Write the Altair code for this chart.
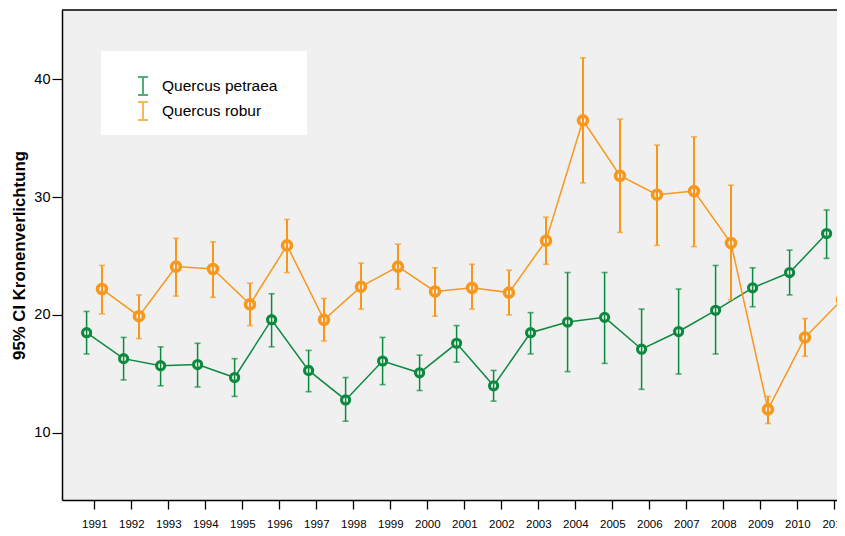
import altair as alt
import pandas as pd

years = list(range(1991, 2012))
species = ["Quercus petraea", "Quercus robur"]
colors = ["#0b8a3e", "#f7981d"]

petraea_mean = [18.5, 16.3, 15.7, 15.8, 14.7, 19.6, 15.3, 12.8, 16.1, 15.1, 17.6, 14.0, 18.5, 19.4, 19.8, 17.1, 18.6, 20.4, 22.3, 23.6, 26.9]
petraea_lo = [16.7, 14.5, 14.0, 13.9, 13.1, 17.3, 13.5, 11.0, 14.1, 13.6, 16.0, 12.7, 16.7, 15.2, 15.9, 13.7, 15.0, 16.7, 20.7, 21.7, 24.8]
petraea_hi = [20.3, 18.1, 17.3, 17.6, 16.3, 21.8, 17.0, 14.7, 18.1, 16.6, 19.1, 15.3, 20.2, 23.6, 23.6, 20.5, 22.2, 24.2, 24.0, 25.5, 28.9]

robur_mean = [22.2, 19.9, 24.1, 23.9, 20.9, 25.9, 19.6, 22.4, 24.1, 22.0, 22.3, 21.9, 26.3, 36.5, 31.8, 30.2, 30.5, 26.1, 12.0, 18.1, 21.3]
robur_lo = [20.1, 18.0, 21.6, 21.5, 19.1, 23.6, 17.8, 20.5, 22.2, 19.9, 20.5, 20.0, 24.3, 31.2, 27.0, 25.9, 25.8, 21.3, 10.8, 16.5, 20.0]
robur_hi = [24.2, 21.7, 26.5, 26.2, 22.7, 28.1, 21.4, 24.4, 26.0, 24.0, 24.3, 23.8, 28.3, 41.8, 36.6, 34.4, 35.1, 31.0, 13.1, 19.7, 22.7]

y_ticks = [10, 20, 30, 40]
y_domain = [4.32, 45.85]
x_domain = [1990.127, 2011.073]

rows = []
for sp, m, lo, hi in [(species[0], petraea_mean, petraea_lo, petraea_hi),
                      (species[1], robur_mean, robur_lo, robur_hi)]:
    for i, yr in enumerate(years):
        rows.append({"species": sp, "year": yr, "mean": m[i], "lo": lo[i], "hi": hi[i]})
df = pd.DataFrame(rows)

FONT = "Liberation Sans"
xscale = alt.Scale(domain=x_domain, nice=False, zero=False)
yscale = alt.Scale(domain=y_domain, nice=False, zero=False)

is_pet = alt.datum.species == species[0]

# invisible spacer title (white on the white legend box) to widen the box
legend = alt.Legend(
    title="M" * 55, titleFontSize=4, titlePadding=10, titleColor="white",
    titleFont=FONT, titleLimit=1000,
    orient="none", legendX=39, legendY=41,
    fillColor="white", padding=11, symbolOffset=21,
    symbolType="M0,-1L0,1M-0.55,-1L0.55,-1M-0.55,1L0.55,1",
    symbolSize=324, symbolStrokeWidth=2, symbolFillColor="transparent",
    labelFont=FONT, labelFontSize=15.5, labelColor="#000", labelOffset=9,
    rowPadding=-1, labelLimit=400,
)
color = alt.Color("species:N", scale=alt.Scale(domain=species, range=colors), legend=legend)

xaxis = alt.Axis(values=years, format="d", title=None, grid=False,
                 labelFont=FONT, labelFontSize=11.5, labelColor="#000",
                 labelPadding=9, labelFlush=False, labelOverlap=False,
                 tickColor="#000", tickSize=9, tickWidth=1.3,
                 domainColor="#000", domainWidth=1.5)
yaxis = alt.Axis(values=y_ticks, title="95% CI Kronenverlichtung", grid=False,
                 labelFont=FONT, labelFontSize=14.5, labelColor="#000", labelPadding=2,
                 tickColor="#000", tickSize=10, tickWidth=1.2,
                 domainColor="#000", domainWidth=1.5,
                 titleFont=FONT, titleFontSize=16.8, titleFontWeight="bold",
                 titleColor="#000", titlePadding=5)

X = alt.X("xpos:Q", scale=xscale, axis=xaxis)

base = alt.Chart(df).transform_calculate(
    xpos="datum.year + (datum.species === 'Quercus petraea' ? -0.208 : 0.208)"
)

lines = base.mark_line(strokeWidth=1.5).encode(
    x=X,
    y=alt.Y("mean:Q", scale=yscale, axis=yaxis),
    color=color,
)

points = base.mark_point(shape="circle", fill="#f0f0f0", fillOpacity=1, opacity=1).encode(
    x=X,
    y=alt.Y("mean:Q", scale=yscale, axis=yaxis),
    stroke=alt.Stroke("species:N", scale=alt.Scale(domain=species, range=colors), legend=None),
    size=alt.condition(is_pet, alt.value(66), alt.value(80)),
    strokeWidth=alt.condition(is_pet, alt.value(3.1), alt.value(3.6)),
)

rules = base.mark_rule().encode(
    x=X,
    y=alt.Y("lo:Q", scale=yscale, axis=yaxis),
    y2="hi:Q",
    color=color,
    strokeWidth=alt.condition(is_pet, alt.value(1.5), alt.value(2.0)),
)

caps_lo = base.mark_tick(orient="horizontal", size=6, thickness=1.6).encode(
    x=X,
    y=alt.Y("lo:Q", scale=yscale, axis=yaxis),
    color=color,
)
caps_hi = base.mark_tick(orient="horizontal", size=6, thickness=1.6).encode(
    x=X,
    y=alt.Y("hi:Q", scale=yscale, axis=yaxis),
    color=color,
)

top_border = alt.Chart(pd.DataFrame({"v": [y_domain[1]]})).mark_rule(
    color="#000", strokeWidth=1.5
).encode(y=alt.Y("v:Q", scale=yscale, axis=yaxis))

chart = alt.layer(lines, points, rules, caps_lo, caps_hi, top_border).properties(
    width=775, height=490,
    autosize=alt.AutoSizeParams(type="none"),
    padding={"left": 54, "top": 2, "right": 0, "bottom": 34},
    background="white",
).configure_view(
    fill="#f0f0f0", stroke=None
)

chart.save("out.html", embed_options={"renderer": "svg", "actions": False})
